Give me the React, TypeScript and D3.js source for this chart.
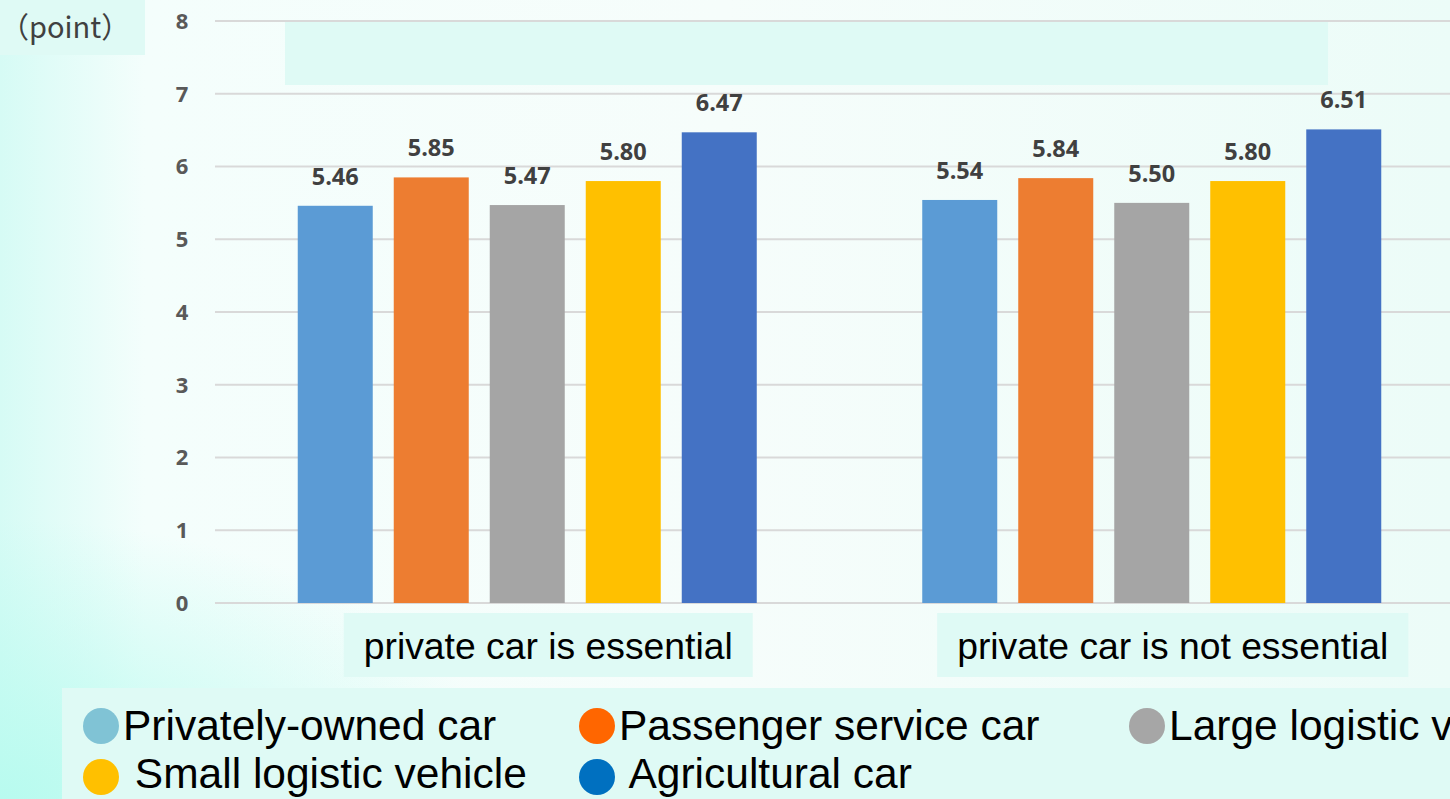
import React, { useEffect, useRef } from "react";
import * as d3 from "d3";

const groups = ["private car is essential", "private car is not essential"];
const seriesNames = [
  "Privately-owned car",
  "Passenger service car",
  "Large logistic vehicle",
  "Small logistic vehicle",
  "Agricultural car",
];
const essentialValues = [5.46, 5.85, 5.47, 5.8, 6.47];
const notEssentialValues = [5.54, 5.84, 5.5, 5.8, 6.51];
const yTicks = [0, 1, 2, 3, 4, 5, 6, 7, 8];
const barColors = ["#5b9bd5", "#ed7d31", "#a5a5a5", "#ffc000", "#4472c4"];
const legendColors = ["#80c3d5", "#ff6600", "#a6a6a6", "#ffc000", "#0070c0"];
const legendLabels = [
  "Privately-owned car",
  "Passenger service car",
  "Large logistic vehicle",
  " Small logistic vehicle",
  " Agricultural car",
];
const unitLabel = "（point）";

const W = 1450;
const H = 799;
const BOX = "#dffaf5";

export default function App() {
  const ref = useRef<SVGSVGElement | null>(null);

  useEffect(() => {
    document.body.style.margin = "0";
    const svg = d3.select(ref.current);
    svg.selectAll("*").remove();

    const defs = svg.append("defs");
    const g1 = defs.append("linearGradient").attr("id", "bgH").attr("x1", 0).attr("x2", 1).attr("y1", 0).attr("y2", 0);
    g1.append("stop").attr("offset", 0).attr("stop-color", "#d6fbf5");
    g1.append("stop").attr("offset", 0.1).attr("stop-color", "#f4fefc");
    g1.append("stop").attr("offset", 0.5).attr("stop-color", "#f6fdfb");
    g1.append("stop").attr("offset", 1).attr("stop-color", "#ecfcf8");
    const g2 = defs.append("radialGradient").attr("id", "bgR").attr("cx", 0).attr("cy", 1).attr("r", 0.35);
    g2.append("stop").attr("offset", 0).attr("stop-color", "#b8fbef").attr("stop-opacity", 1);
    g2.append("stop").attr("offset", 1).attr("stop-color", "#b8fbef").attr("stop-opacity", 0);

    svg.append("rect").attr("width", W).attr("height", H).attr("fill", "url(#bgH)");
    svg.append("rect").attr("width", W).attr("height", H).attr("fill", "url(#bgR)");

    const y = d3.scaleLinear().domain([0, 8]).range([603, 21]);
    const x0 = d3.scaleBand<string>().domain(groups).range([215, 1464]).paddingInner(0.265).paddingOuter(0.1325);
    const x1 = d3.scaleBand<string>().domain(seriesNames).range([0, x0.bandwidth()]).paddingInner(21 / 96).paddingOuter(0);

    // unit box
    svg.append("rect").attr("x", 0).attr("y", 0).attr("width", 145).attr("height", 55).attr("fill", BOX);
    svg.append("text").attr("x", 0).attr("y", 38)
      .attr("font-family", "'Noto Sans CJK JP', 'Noto Sans', sans-serif")
      .attr("font-size", 29).attr("fill", "#404040").text(unitLabel);

    // gridlines
    svg.append("g").selectAll("line").data(yTicks).join("line")
      .attr("x1", 215).attr("x2", W)
      .attr("y1", (d) => y(d)).attr("y2", (d) => y(d))
      .attr("stroke", "#d9d9d9").attr("stroke-width", 2);

    // top empty box
    svg.append("rect").attr("x", 285).attr("y", 22).attr("width", 1043).attr("height", 63).attr("fill", BOX);

    // y tick labels
    svg.append("g").selectAll("text").data(yTicks).join("text")
      .attr("x", 182).attr("y", (d) => y(d)).attr("dy", "0.36em")
      .attr("text-anchor", "middle")
      .attr("font-family", "'Open Sans', sans-serif").attr("font-weight", 700)
      .attr("font-size", 22).attr("fill", "#595959").text((d) => String(d));

    const valuesByGroup = [essentialValues, notEssentialValues];
    groups.forEach((gName, gi) => {
      const gg = svg.append("g").attr("transform", `translate(${x0(gName)},0)`);
      const data = seriesNames.map((s, i) => ({ s, v: valuesByGroup[gi][i], c: barColors[i] }));
      gg.selectAll("rect").data(data).join("rect")
        .attr("x", (d) => x1(d.s)!).attr("width", x1.bandwidth())
        .attr("y", (d) => y(d.v)).attr("height", (d) => y(0) - y(d.v))
        .attr("fill", (d) => d.c);
      gg.selectAll("text").data(data).join("text")
        .attr("x", (d) => x1(d.s)! + x1.bandwidth() / 2)
        .attr("y", (d) => y(d.v) - 21)
        .attr("text-anchor", "middle")
        .attr("font-family", "'Open Sans', sans-serif").attr("font-weight", 700)
        .attr("font-size", 23.5).attr("fill", "#404040")
        .text((d) => d.v.toFixed(2));

      // category label box
      const cx = x0(gName)! + x0.bandwidth() / 2 + 21;
      const lbl = svg.append("g");
      const boxR = lbl.append("rect").attr("y", 613).attr("height", 64).attr("fill", BOX);
      const t = lbl.append("text").attr("x", cx).attr("y", 659)
        .attr("text-anchor", "middle")
        .attr("font-family", "'Liberation Sans', Arial, sans-serif")
        .attr("font-size", 37.3).attr("fill", "#000").text(gName);
      const tw = (t.node() as SVGTextElement).getComputedTextLength();
      boxR.attr("x", cx - tw / 2 - 20).attr("width", tw + 40);
    });

    // legend
    svg.append("rect").attr("x", 62).attr("y", 688).attr("width", W - 62).attr("height", H - 688).attr("fill", BOX);
    const legendX = [101, 597, 1147];
    const legendItems = legendLabels.map((l, i) => ({
      l, c: legendColors[i], cx: legendX[i % 3], row: Math.floor(i / 3),
    }));
    const lg = svg.append("g").selectAll("g").data(legendItems).join("g");
    lg.append("circle").attr("cx", (d) => d.cx).attr("cy", (d) => 726 + d.row * 51)
      .attr("r", 18).attr("fill", (d) => d.c);
    lg.append("text").attr("x", (d) => d.cx + 22).attr("y", (d) => 740 + d.row * 48)
      .attr("font-family", "'Liberation Sans', Arial, sans-serif")
      .attr("font-size", 42.5).attr("fill", "#000")
      .style("white-space", "pre")
      .text((d) => d.l);
  }, []);

  return (
    <svg ref={ref} width={W} height={H} style={{ display: "block", position: "absolute", left: 0, top: 0 }} />
  );
}
